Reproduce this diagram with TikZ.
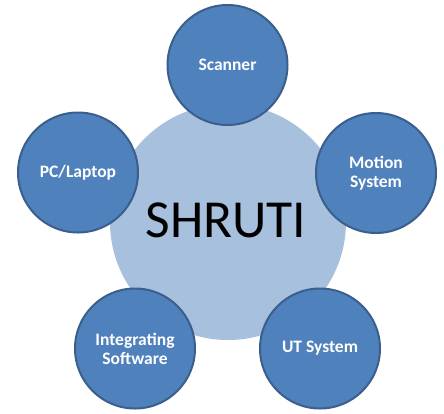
\documentclass[tikz,border=0pt]{standalone}
\usepackage{fontspec}
\setmainfont{Carlito}
\begin{document}
\begin{tikzpicture}[x=1pt,y=-1pt,
  hub/.style={circle,fill=hubfill,minimum size=236pt,inner sep=0pt},
  sat/.style={circle,fill=satfill,draw=satline,line width=2pt,minimum size=120pt,inner sep=0pt,
    text=white,font=\bfseries\fontsize{17.5}{19}\selectfont,align=center}]
\definecolor{hubfill}{HTML}{A7C0DE}
\definecolor{satfill}{HTML}{4F81BD}
\definecolor{satline}{HTML}{3A5F8C}
\useasboundingbox (0,0) rectangle (444,413);
\node[hub] (hub) at (228,222) {};
\node (title) at (226,220) {\fontsize{53.5}{58}\selectfont SHRUTI};
\node[sat] (scanner) at (227.5,65) {Scanner};
\node[sat] (pc) at (78,172.5) {PC/Laptop};
\node[sat] (motion) at (376,173) {Motion\\System};
\node[sat] (soft) at (135,348.5) {Integrating\\Software};
\node[sat] (ut) at (320,348.5) {UT System};
\end{tikzpicture}
\end{document}
